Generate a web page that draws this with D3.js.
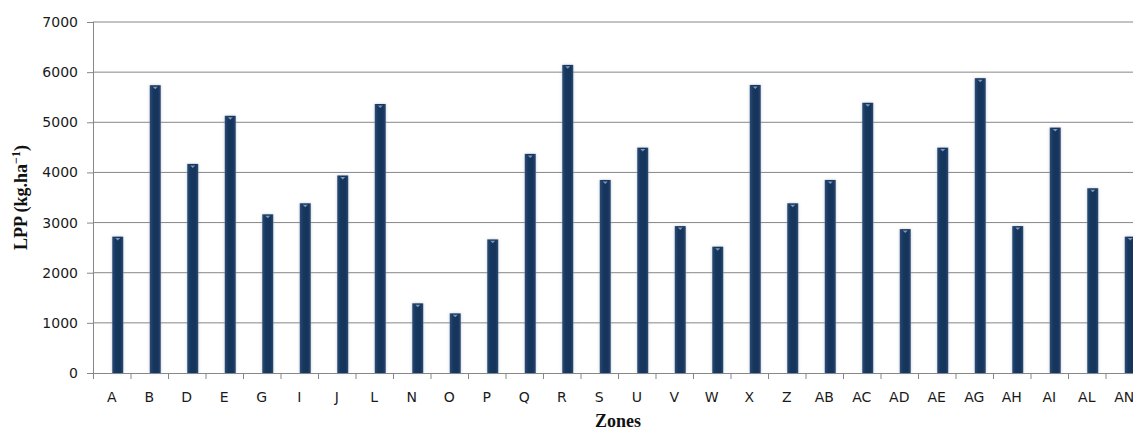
<!DOCTYPE html>
<html>
<head>
<meta charset="utf-8">
<script src="https://cdn.jsdelivr.net/npm/d3@7"></script>
<style>
  body { margin: 0; background: #fff; }
  .tick text { font-family: "DejaVu Sans", sans-serif; font-size: 14px; fill: #1a1a1a; }
  .axis-title { font-family: "Liberation Serif", "DejaVu Serif", serif; font-weight: bold; font-size: 18px; fill: #111; }
</style>
</head>
<body>
<div id="chart"></div>
<script>
// zones and LPP values
var zones = ["A", "B", "D", "E", "G", "I", "J", "L", "N", "O", "P", "Q", "R", "S",
    "U", "V", "W", "X", "Z", "AB", "AC", "AD", "AE", "AG", "AH", "AI", "AL", "AN"];
var lpp = [2720, 5740, 4170, 5130, 3165, 3385, 3940, 5365, 1390, 1190, 2665, 4370, 6145, 3850,
    4495, 2930, 2520, 5745, 3385, 3850, 5390, 2870, 4495, 5880, 2930, 4895, 3685, 2720];
var yTicks = [0, 1000, 2000, 3000, 4000, 5000, 6000, 7000];

var svgWidth = 1133;
var svgHeight = 430;

var margin = { top: 22, left: 93, bottom: 57 };
var slot = 37.5;
var width = zones.length * slot;          // runs past the right edge, as in the original
var height = svgHeight - margin.top - margin.bottom;

var data = zones.map(function (z, i) { return { zone: z, value: lpp[i] }; });

var svg = d3.select("#chart")
    .append("svg")
    .attr("width", svgWidth)
    .attr("height", svgHeight);

var defs = svg.append("defs");
var grad = defs.append("linearGradient")
    .attr("id", "barGrad")
    .attr("x1", "0%").attr("x2", "100%").attr("y1", "0%").attr("y2", "0%");
grad.append("stop").attr("offset", "0%").attr("stop-color", "#2b4c76");
grad.append("stop").attr("offset", "30%").attr("stop-color", "#17375e");
grad.append("stop").attr("offset", "75%").attr("stop-color", "#16355b");
grad.append("stop").attr("offset", "100%").attr("stop-color", "#2a4a72");

var shadow = defs.append("filter").attr("id", "shadow")
    .attr("x", "-50%").attr("y", "-5%").attr("width", "200%").attr("height", "110%");
shadow.append("feDropShadow")
    .attr("dx", 0).attr("dy", 0).attr("stdDeviation", 1.6)
    .attr("flood-color", "#8da0b8").attr("flood-opacity", 0.55);

var chartGroup = svg.append("g")
    .attr("transform", `translate(${margin.left}, ${margin.top})`);

var xScale = d3.scaleBand()
    .domain(zones)
    .range([0, width])
    .padding(0);

var yScale = d3.scaleLinear()
    .domain([0, 7000])
    .range([height, 0]);

// gridlines
chartGroup.append("g")
    .selectAll("line")
    .data(yTicks.slice(1))
    .enter()
    .append("line")
    .attr("x1", 0)
    .attr("x2", width)
    .attr("y1", d => yScale(d))
    .attr("y2", d => yScale(d))
    .attr("stroke", "#878787")
    .attr("stroke-width", 1);

// bars
chartGroup.selectAll("rect.bar")
    .data(data)
    .enter()
    .append("rect")
    .attr("class", "bar")
    .attr("x", d => xScale(d.zone) + xScale.bandwidth() / 2 + 0.5)
    .attr("y", d => yScale(d.value))
    .attr("width", 11)
    .attr("height", d => height - yScale(d.value))
    .attr("fill", "url(#barGrad)")
    .attr("filter", "url(#shadow)");

// little light mark at the top of each bar
chartGroup.selectAll("path.cap")
    .data(data)
    .enter()
    .append("path")
    .attr("class", "cap")
    .attr("d", d => {
        var cx = xScale(d.zone) + xScale.bandwidth() / 2 + 6;
        var y = yScale(d.value) + 1.5;
        return `M${cx - 2.5},${y} L${cx + 2.5},${y} L${cx},${y + 2.5} Z`;
    })
    .attr("fill", "#7f98b8");

// y axis
var leftAxis = d3.axisLeft(yScale)
    .tickValues(yTicks)
    .tickSize(6)
    .tickPadding(9)
    .tickFormat(d3.format("d"));

var yAxis = chartGroup.append("g").call(leftAxis);
yAxis.select(".domain").remove();
yAxis.selectAll(".tick line").attr("stroke", "#878787");

chartGroup.append("line")
    .attr("x1", 0.5).attr("x2", 0.5)
    .attr("y1", 0).attr("y2", height + 6)
    .attr("stroke", "#878787");

// x axis
var bottomAxis = d3.axisBottom(xScale)
    .tickSize(0)
    .tickPadding(19);

var xAxis = chartGroup.append("g")
    .attr("transform", `translate(0, ${height})`)
    .call(bottomAxis);
xAxis.select(".domain").attr("stroke", "#878787");

xAxis.selectAll("line.sep")
    .data(zones)
    .enter()
    .append("line")
    .attr("class", "sep")
    .attr("x1", d => xScale(d) + 0.5)
    .attr("x2", d => xScale(d) + 0.5)
    .attr("y1", 0)
    .attr("y2", 6)
    .attr("stroke", "#878787");

// axis titles
chartGroup.append("text")
    .attr("class", "axis-title")
    .attr("x", width / 2)
    .attr("y", height + 54)
    .attr("text-anchor", "middle")
    .text("Zones");

var yTitle = chartGroup.append("text")
    .attr("class", "axis-title")
    .attr("transform", `translate(${-66}, ${height / 2}) rotate(-90)`)
    .attr("text-anchor", "middle");
yTitle.append("tspan").text("LPP (kg.ha");
yTitle.append("tspan").attr("baseline-shift", "super").attr("font-size", "12px").text("−1");
yTitle.append("tspan").text(")");
</script>
</body>
</html>
